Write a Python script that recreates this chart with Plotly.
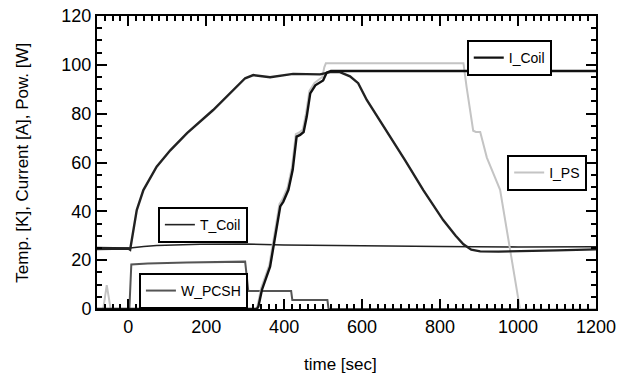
import plotly.graph_objects as go

# ---- data ----
t_pcs_t = [-80, -40, 0, 5, 14, 22, 39, 73, 108, 151, 218, 260, 287, 300, 321, 364, 423, 492, 518, 543,
           569, 590, 612, 663, 710, 757, 808, 840, 860, 880, 903, 950, 1000, 1100, 1200]
t_pcs_v = [24.6, 24.7, 24.8, 24.3, 33.7, 40.5, 48.7, 58.3, 65, 72, 81.5, 88, 92.6, 94.5, 95.8, 94.9, 96.3, 96.1, 97, 97,
           95.3, 92.5, 85.6, 73, 61, 48.7, 36.4, 30, 26.5, 24.3, 23.6, 23.5, 23.6, 24, 24.4]

t_coil_t = [-80, 0, 5, 40, 73, 185, 300, 400, 600, 800, 1000, 1200]
t_coil_v = [25.2, 25.3, 25.0, 25.6, 26, 26.5, 26.6, 26.2, 25.8, 25.6, 25.4, 25.5]

i_coil_t = [-80, 330, 334, 343, 364, 373, 390, 398, 411, 422, 432, 441, 450, 458, 467, 480, 492, 500, 509, 520, 1200]
i_coil_v = [0, 0, 1, 7.8, 17.3, 25.5, 42, 44, 48.8, 57, 70.6, 71.3, 72.5, 78.8, 88.3, 91.6, 93, 93.6, 96.8, 97.5, 97.5]

i_ps_t = [-80, -64, -55, -45, -40, 328, 332, 341, 362, 371, 388, 396, 409, 420, 430, 439, 448, 456, 465, 478,
          490, 498, 503, 507, 860, 868, 885, 892, 903, 920, 954, 980, 1000, 1005, 1200]
i_ps_v = [0, 0, 9.8, 0, 0, 0, 1.5, 8.5, 18, 26.5, 43, 45, 49.8, 58, 71.6, 72.3, 73.5, 80, 89.3, 92.6,
          94, 95, 99, 100.6, 100.6, 91, 73, 72.5, 72.5, 62, 48.8, 24.2, 3.7, 0, 0]

w_pcsh_t = [-80, 3, 8, 50, 150, 250, 300, 305, 308, 418, 421, 511, 514, 1200]
w_pcsh_v = [0, 0, 18.2, 18.6, 19, 19.3, 19.4, 12, 7.4, 7.4, 3.7, 3.7, 0, 0]

x_title = "time [sec]"
y_title = "Temp. [K], Current [A], Pow. [W]"

FONT = "Liberation Sans"

fig = go.Figure()
fig.add_trace(go.Scatter(x=t_coil_t, y=t_coil_v, mode="lines", name="T_Coil",
                         line=dict(color="#222222", width=1.6), legend="legend4"))
fig.add_trace(go.Scatter(x=w_pcsh_t, y=w_pcsh_v, mode="lines", name="W_PCSH",
                         line=dict(color="#555555", width=2), legend="legend5"))
fig.add_trace(go.Scatter(x=i_ps_t, y=i_ps_v, mode="lines", name="I_PS",
                         line=dict(color="#c4c4c4", width=2), legend="legend3"))
fig.add_trace(go.Scatter(x=t_pcs_t, y=t_pcs_v, mode="lines", name="T_PCS",
                         line=dict(color="#222222", width=2.4), legend="legend"))
fig.add_trace(go.Scatter(x=i_coil_t, y=i_coil_v, mode="lines", name="I_Coil",
                         line=dict(color="#111111", width=2.4), legend="legend2"))

def lg(x, y):
    return dict(x=x, y=y, xanchor="left", yanchor="top", bgcolor="white",
                bordercolor="black", borderwidth=2,
                font=dict(family=FONT, size=14, color="black"),
                itemwidth=30, tracegroupgap=0, valign="middle")

fig.update_layout(
    width=627, height=378,
    margin=dict(l=97, r=31, t=16, b=69, autoexpand=False),
    paper_bgcolor="white", plot_bgcolor="white",
    font=dict(family=FONT, color="black"),
    legend=lg(0.046, 0.816),
    legend2=lg(0.741, 0.918),
    legend3=lg(0.822, 0.526),
    legend4=lg(0.122, 0.348),
    legend5=lg(0.084, 0.123),
    xaxis=dict(range=[-80, 1200], tickmode="linear", tick0=0, dtick=200,
               ticks="inside", ticklen=10, tickwidth=2, tickcolor="black",
               minor=dict(dtick=20, tick0=0, ticks="inside", ticklen=5, tickwidth=1.5, tickcolor="black"),
               showline=True, linecolor="black", linewidth=2, mirror="allticks",
               showgrid=False, zeroline=False,
               tickfont=dict(family=FONT, size=18, color="black")),
    yaxis=dict(range=[0, 120], tickmode="linear", tick0=0, dtick=20,
               ticks="inside", ticklen=10, tickwidth=2, tickcolor="black",
               minor=dict(dtick=5, tick0=0, ticks="inside", ticklen=5, tickwidth=1.5, tickcolor="black"),
               showline=True, linecolor="black", linewidth=2, mirror="allticks",
               showgrid=False, zeroline=False,
               tickfont=dict(family=FONT, size=18, color="black")),
    annotations=[
        dict(text=x_title, xref="paper", yref="paper", x=0.487, y=-0.191,
             xanchor="center", yanchor="middle", showarrow=False,
             font=dict(family=FONT, size=17, color="black")),
        dict(text=y_title, xref="paper", yref="paper", x=-0.150, y=0.5,
             xanchor="center", yanchor="middle", showarrow=False, textangle=-90,
             font=dict(family=FONT, size=17, color="black")),
    ],
)

fig.write_html("out.html", config={"displayModeBar": False},
               post_script="document.body.style.margin='0';")
